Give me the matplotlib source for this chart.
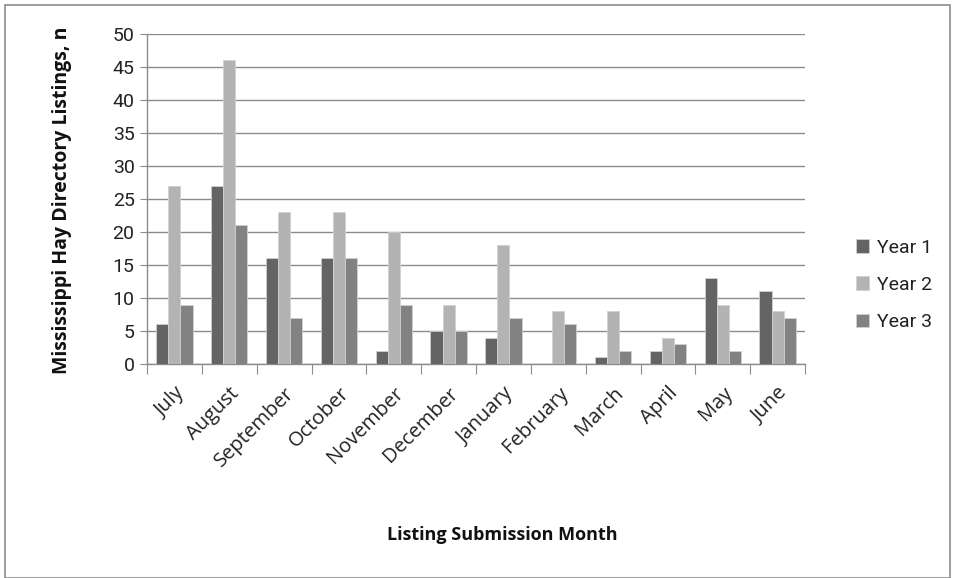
import matplotlib
matplotlib.use("Agg")
import matplotlib.pyplot as plt
from matplotlib.patches import Rectangle
import numpy as np

months = ["July", "August", "September", "October", "November", "December",
          "January", "February", "March", "April", "May", "June"]
year1 = [6, 27, 16, 16, 2, 5, 4, 0, 1, 2, 13, 11]
year2 = [27, 46, 23, 23, 20, 9, 18, 8, 8, 4, 9, 8]
year3 = [9, 21, 7, 16, 9, 5, 7, 6, 2, 3, 2, 7]
series_names = ["Year 1", "Year 2", "Year 3"]
colors = ["#646464", "#b3b3b3", "#828282"]

plt.rcParams["font.family"] = ["Roboto", "DejaVu Sans"]

fig = plt.figure(figsize=(9.56, 5.78), dpi=100)
ax = fig.add_axes([147/956, 1 - 364/578, (805-147)/956, (364-34)/578])

x = np.arange(len(months))
w = 0.22
for i, (vals, name, c) in enumerate(zip([year1, year2, year3], series_names, colors)):
    ax.bar(x + (i - 1) * w, vals, width=w, color=c, edgecolor="#d0d0d0",
           linewidth=0.6, label=name, zorder=3)

ax.set_xlim(-0.5, len(months) - 0.5)
ax.set_ylim(0, 50)
ax.set_yticks(range(0, 51, 5))
ax.yaxis.grid(True, color="#8c8c8c", linewidth=1.0, zorder=0)
ax.set_axisbelow(True)

for s in ["top", "right"]:
    ax.spines[s].set_visible(False)
for s in ["left", "bottom"]:
    ax.spines[s].set_color("#8c8c8c")
    ax.spines[s].set_linewidth(1.0)

ax.tick_params(axis="y", length=5, color="#8c8c8c", labelsize=14, labelcolor="#222222", pad=4)
# category boundary ticks on the x axis
ax.set_xticks(np.arange(-0.5, len(months)))
ax.set_xticklabels([])
ax.tick_params(axis="x", length=7, color="#8c8c8c")
for xi, m in zip(x, months):
    ax.annotate(m, xy=(xi, 0), xycoords=("data", "axes fraction"),
                xytext=(0, -14), textcoords="offset points",
                rotation=45, ha="right", va="top", rotation_mode="anchor",
                fontsize=14.5, color="#222222", family=["Open Sans", "DejaVu Sans"])

fig.text(62/956, 1 - 200/578, "Mississippi Hay Directory Listings, n",
         rotation=90, ha="center", va="center", fontsize=14, fontweight="bold",
         family=["Open Sans", "DejaVu Sans"], color="#111111")
fig.text(502/956, 1 - 535/578, "Listing Submission Month", ha="center", va="center",
         fontsize=13, fontweight="bold", family=["Open Sans", "DejaVu Sans"], color="#111111")

leg = fig.legend(loc="center left", bbox_to_anchor=(838/956, 1 - 285/578),
                 frameon=False, fontsize=14, handlelength=0.7, handleheight=0.7,
                 handletextpad=0.4, labelspacing=1.0)
for t in leg.get_texts():
    t.set_color("#222222")

fig.add_artist(Rectangle((5/956, 0), 945/956, 1 - 5/578, transform=fig.transFigure,
                         fill=False, edgecolor="#8c8c8c", linewidth=1.2))

fig.savefig("out.png", dpi=100)
